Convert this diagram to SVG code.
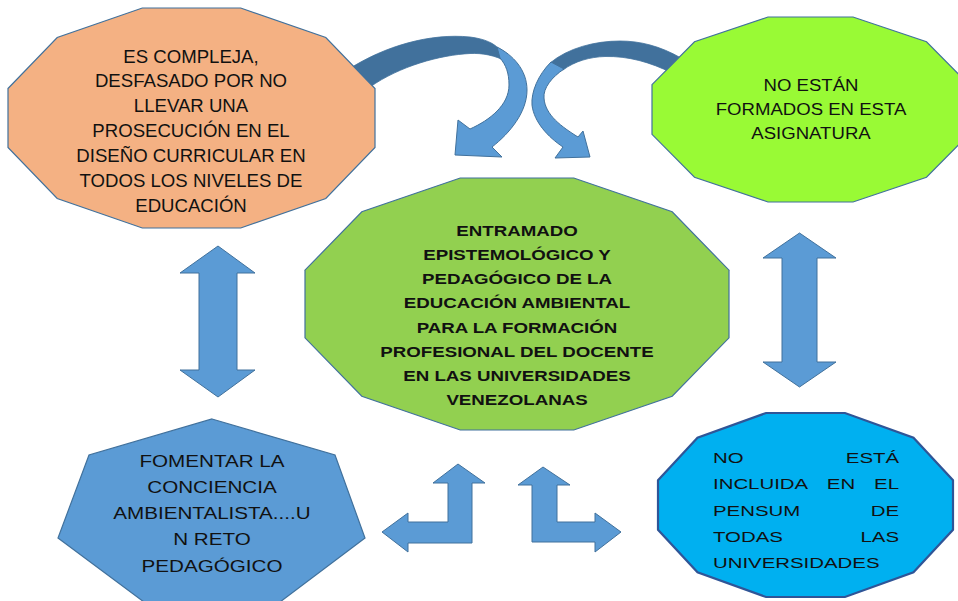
<svg xmlns="http://www.w3.org/2000/svg" width="958" height="601" viewBox="0 0 958 601">
<style>
.arr{fill:#5B9BD5;stroke:#41719C;stroke-width:1;stroke-linejoin:miter}
.band{fill:#41719C;stroke:#41719C;stroke-width:0.8}
.node{stroke:#41719C;stroke-width:1.2}
.t{font-family:"Liberation Sans",Arial,sans-serif;fill:#111;text-anchor:middle}
.tl{font-family:"Liberation Sans",Arial,sans-serif;fill:#111}
</style>
<rect width="958" height="601" fill="#fff"/>
<g id="connectors">
  <path class="band" d="M349,69 C385,46 430,33 470,37 C485,39 494,43 500,50 L507,62 C495,55 482,53 470,53.5 C440,55 400,66 370,87 Z"/>
  <path class="arr" d="M497,47 C513,55 527,70 527,90 C527,112 510,133 492,147 L502,157 L455,155 L458,120 L470,129 C490,120 509,105 509,85 C509,73 506,65 500,58 Z"/>
  <path class="band" d="M681,58 C660,46 640,41 620,41 C595,41 568,48 550,63 L563,70 C575,61 590,57 605,56.5 C628,56 650,62 672,73 Z"/>
  <path class="arr" d="M551,62 C538,75 531,92 532,105 C534,122 548,137 563,147 L555,158 L590,157 L583,131 L578,137 C562,127 545,115 544,98 C543,88 552,77 564,69 Z"/>
  <polygon class="arr" points="218,246 255,273 237,273 237,370 255,370 218,397 180,370 199,370 199,273 180,273"/>
  <polygon class="arr" points="799.5,233 836,258 817,258 817,362 836,362 799.5,387 763,362 782,362 782,258 763,258"/>
  <polygon class="arr" points="458,464 485,483 472,483 472,543 408,543 408,552 382,532 408,513 408,522 448,522 448,483 433,483"/>
  <polygon class="arr" points="543,467 570,485 557,485 557,522 595,522 595,513 621,532 595,552 595,542 532,542 532,485 518,485"/>
</g>
<g id="node-orange">
  <polygon class="node" fill="#F4B183" points="8,88.5 57.2,37.5 142.3,8 240.7,8 325.8,37.5 375,88.5 375,147.5 325.8,198.5 240.7,228 142.3,228 57.2,198.5 8,147.5"/>
  <g transform="translate(191 0) scale(1.063 1)" class="t" font-size="17.5">
    <text x="0" y="62.7">ES COMPLEJA,</text>
    <text x="0" y="87.5">DESFASADO POR NO</text>
    <text x="0" y="112.4">LLEVAR UNA</text>
    <text x="0" y="137.2">PROSECUCIÓN EN EL</text>
    <text x="0" y="162">DISEÑO CURRICULAR EN</text>
    <text x="0" y="186.9">TODOS LOS NIVELES DE</text>
    <text x="0" y="211.7">EDUCACIÓN</text>
  </g>
</g>
<g id="node-lime">
  <polygon class="node" fill="#99FA35" points="652,84.7 694.5,41.8 768,17 853,17 926.5,41.8 969,84.7 969,134.3 926.5,177.2 853,202 768,202 694.5,177.2 652,134.3"/>
  <g transform="translate(811 0) scale(1.127 1)" class="t" font-size="16.5">
    <text x="0" y="91">NO ESTÁN</text>
    <text x="0" y="115">FORMADOS EN ESTA</text>
    <text x="0" y="139">ASIGNATURA</text>
  </g>
</g>
<g id="node-center">
  <polygon class="node" fill="#92D050" points="305,270.2 361.8,211.8 460.2,178 573.8,178 672.2,211.8 729,270.2 729,337.8 672.2,396.2 573.8,430 460.2,430 361.8,396.2 305,337.8"/>
  <g transform="translate(517 0) scale(1.29 1)" class="t" font-size="14.5" font-weight="bold">
    <text x="0" y="236">ENTRAMADO</text>
    <text x="0" y="260.1">EPISTEMOLÓGICO Y</text>
    <text x="0" y="284.3">PEDAGÓGICO DE LA</text>
    <text x="0" y="308.4">EDUCACIÓN AMBIENTAL</text>
    <text x="0" y="332.6">PARA LA FORMACIÓN</text>
    <text x="0" y="356.7">PROFESIONAL DEL DOCENTE</text>
    <text x="0" y="380.9">EN LAS UNIVERSIDADES</text>
    <text x="0" y="405">VENEZOLANAS</text>
  </g>
</g>
<g id="node-heptagon">
  <polygon class="node" fill="#5B9BD5" points="212,419 335,455 365,538 280,602 144,602 58,538 89,455"/>
  <g transform="translate(212 0) scale(1.25 1)" class="t" font-size="16.5">
    <text x="0" y="466.7">FOMENTAR LA</text>
    <text x="0" y="493">CONCIENCIA</text>
    <text x="0" y="519.2">AMBIENTALISTA....U</text>
    <text x="0" y="545.5">N RETO</text>
    <text x="0" y="571.7">PEDAGÓGICO</text>
  </g>
</g>
<g id="node-cyan">
  <polygon fill="#00B0F0" stroke="#2F5597" stroke-width="2.2" points="658,480.3 697.5,437.7 766,413 845,413 913.5,437.7 953,480.3 953,529.7 913.5,572.3 845,597 766,597 697.5,572.3 658,529.7"/>
  <g transform="translate(713 0) scale(1.36 1)" class="tl" font-size="15">
    <text x="0" y="463.3">NO</text>
    <text x="136.8" y="463.3" text-anchor="end">ESTÁ</text>
    <text x="0" y="489.5">INCLUIDA</text>
    <text x="83.7" y="489.5">EN</text>
    <text x="136.8" y="489.5" text-anchor="end">EL</text>
    <text x="0" y="515.8">PENSUM</text>
    <text x="136.8" y="515.8" text-anchor="end">DE</text>
    <text x="0" y="542">TODAS</text>
    <text x="136.8" y="542" text-anchor="end">LAS</text>
    <text x="0" y="568.3">UNIVERSIDADES</text>
  </g>
</g>
</svg>
